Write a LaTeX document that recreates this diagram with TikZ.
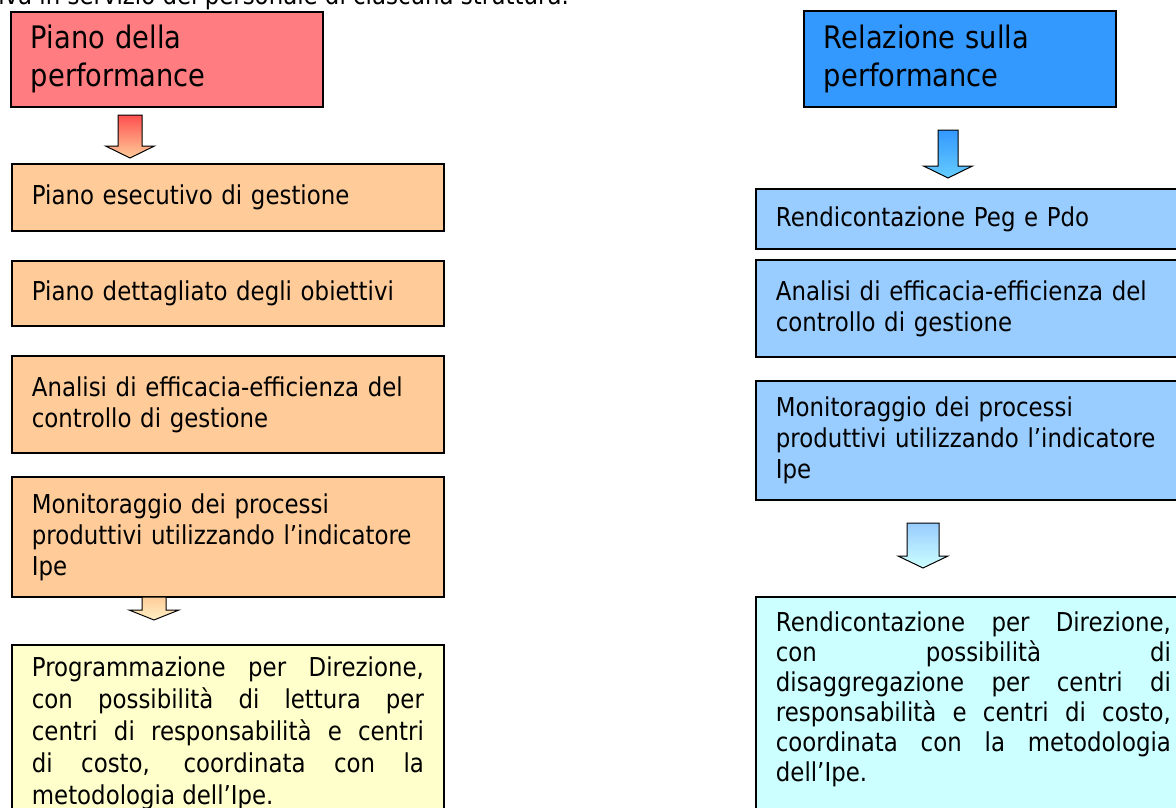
\documentclass[tikz,border=0pt]{standalone}
\usepackage{fontspec}
\setmainfont[FakeStretch=0.88]{DejaVu Sans}
\usepackage{xcolor}
\usepackage{tikz}
\definecolor{pianoRed}{HTML}{FF7C80}
\definecolor{pegOrange}{HTML}{FFCC99}
\definecolor{progrYellow}{HTML}{FFFFCC}
\definecolor{relazBlue}{HTML}{3399FF}
\definecolor{rendBlue}{HTML}{99CCFF}
\definecolor{rendCyan}{HTML}{CCFFFF}
\definecolor{arrowRed}{HTML}{FF5050}
\definecolor{arrowSky}{HTML}{66CCFF}
\definecolor{arrowCream}{HTML}{FFF0C4}

\begin{document}
\begin{tikzpicture}[x=1pt,y=-1pt,
        box/.style={draw, line width=1.8pt, rectangle, anchor=north west, inner xsep=20pt, inner ysep=4pt, align=left, font=\fontsize{26}{31}\selectfont},
        titlebox/.style={box, text width=272pt, font=\fontsize{31}{38}\selectfont},
        lbox/.style={box, fill=pegOrange, text width=392pt},
        rbox/.style={box, fill=rendBlue, text width=420pt},
        blockarr/.style={draw, line width=1pt, line join=miter}]
            \useasboundingbox (0,0) rectangle (1176,808);
            \clip (0,0) rectangle (1176,808);

            \node[anchor=base east, inner sep=0pt, font=\fontsize{26}{31}\selectfont] (intro) at (569,5) {ativa in servizio del personale di ciascuna struttura.};

            % colonna sinistra
            \node[titlebox, fill=pianoRed, minimum height=95pt] (piano) at (10,11) {Piano della\\performance};
            \node[lbox, minimum height=67pt] (peg) at (11,163) {Piano esecutivo di gestione};
            \node[lbox, minimum height=65pt] (pdo) at (11,260) {Piano dettagliato degli obiettivi};
            \node[lbox, minimum height=97pt] (analisiL) at (11,355) {Analisi di efficacia-efficienza del\\controllo di gestione};
            \node[lbox, minimum height=120pt] (monitL) at (11,476) {Monitoraggio dei processi\\produttivi utilizzando l’indicatore\\Ipe};
            \node[box, fill=progrYellow, text width=392pt, align=justify, inner ysep=12pt, font=\fontsize{26}{32}\selectfont] (progr) at (11,644)
                {Programmazione per Direzione,\linebreak con possibilità di lettura per\linebreak centri di responsabilità e centri\linebreak di costo, coordinata con la\linebreak metodologia dell’Ipe.};

            % colonna destra
            \node[titlebox, fill=relazBlue, minimum height=96pt] (relaz) at (803,10) {Relazione sulla\\performance};
            \node[rbox, minimum height=60pt] (rendPeg) at (755,188) {Rendicontazione Peg e Pdo};
            \node[rbox, minimum height=97pt] (analisiR) at (755,259) {Analisi di efficacia-efficienza del\\controllo di gestione};
            \node[rbox, minimum height=119pt] (monitR) at (755,380) {Monitoraggio dei processi\\produttivi utilizzando l’indicatore\\Ipe};
            \node[box, fill=rendCyan, text width=395pt, align=justify, inner ysep=15pt, font=\fontsize{26}{30}\selectfont] (rendDir) at (755,596)
                {Rendicontazione per Direzione,\linebreak con possibilità di\linebreak disaggregazione per centri di\linebreak responsabilità e centri di costo,\linebreak coordinata con la metodologia\linebreak dell’Ipe.\par\mbox{}};

            % frecce a blocco
            \foreach \cx/\yt/\yb/\yp/\s/\h/\ca/\cb in {130/115/146/158/12/24.5/arrowRed/pegOrange,
                    154/597/610/620/12/25/pegOrange/arrowCream,
                    948/130/166/178/10/24.5/relazBlue/arrowSky,
                    923/523/556/568/16/25/rendBlue/rendCyan} {
                    \draw[blockarr, top color=\ca, bottom color=\cb] (\cx-\s,\yt) -- (\cx+\s,\yt) -- (\cx+\s,\yb) -- (\cx+\h,\yb) -- (\cx,\yp) -- (\cx-\h,\yb) -- (\cx-\s,\yb) -- cycle;
                }
        \end{tikzpicture}
\end{document}
